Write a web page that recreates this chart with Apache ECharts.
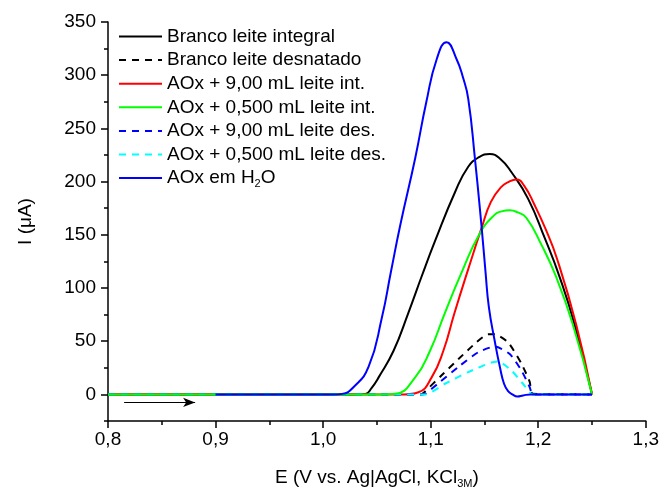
<!DOCTYPE html>
<html><head><meta charset="utf-8">
<script src="https://cdn.jsdelivr.net/npm/echarts@6/dist/echarts.min.js"></script>
<style>html,body{margin:0;padding:0;background:#fff}#c{width:662px;height:494px}</style>
</head><body><div id="c"></div>
<script>
// ---- data (E in V, I in µA) ----
const seriesNames = ['Branco leite integral','Branco leite desnatado','AOx + 9,00 mL leite int.','AOx + 0,500 mL leite int.','AOx + 9,00 mL leite des.','AOx + 0,500 mL leite des.','AOx em H2O'];
const yTickLabels = [0, 50, 100, 150, 200, 250, 300, 350];
const yMinorTicks = [-25, 25, 75, 125, 175, 225, 275, 325];

const brancoIntE = [0.80, 1.030, 1.0393, 1.0450, 1.0516, 1.0655, 1.0790, 1.092, 1.104, 1.1226, 1.1349, 1.1450, 1.155, 1.165, 1.175, 1.1905, 1.206, 1.220, 1.2337, 1.25];
const brancoIntI = [0, 0, 0.5, 6, 16, 41, 76, 112, 144, 190, 214, 223, 226, 221, 209, 184, 147, 110, 66, 0];

const brancoDesE = [0.80, 1.090, 1.0932, 1.1102, 1.1256, 1.1426, 1.1534, 1.1596, 1.1719, 1.1843, 1.192, 1.195, 1.25];
const brancoDesI = [0, 0, 1.4, 18, 33, 49, 56.5, 56.5, 49, 29, 12, 0.5, 0];

const aox9IntE = [0.80, 1.075, 1.0886, 1.1009, 1.1118, 1.1220, 1.1350, 1.1472, 1.1560, 1.1657, 1.1730, 1.1796, 1.1870, 1.1966, 1.2070, 1.2173, 1.2352, 1.25];
const aox9IntI = [0, 0, 2, 16, 41, 76, 118, 156, 181, 195, 200, 202, 196, 178, 155, 128, 66, 0];

const aox05IntE = [0.80, 1.055, 1.067, 1.0856, 1.0994, 1.1130, 1.1281, 1.1455, 1.1596, 1.1660, 1.1735, 1.1810, 1.1889, 1.2028, 1.2160, 1.2321, 1.25];
const aox05IntI = [0, 0, 0.5, 16, 41, 76, 113, 151, 169, 172, 173, 171, 166, 141, 112, 66, 0];

const aox9DesE = [0.80, 1.092, 1.0948, 1.1087, 1.1272, 1.1442, 1.1596, 1.1735, 1.1843, 1.192, 1.195, 1.25];
const aox9DesI = [0, 0, 0.5, 11.7, 27, 39.6, 45, 38, 22.6, 7, 0, 0];

const aox05DesE = [0.80, 1.095, 1.1133, 1.1349, 1.1565, 1.1627, 1.175, 1.1858, 1.195, 1.25];
const aox05DesI = [0, 0, 10, 21, 30, 31, 22.6, 10, 0, 0];

const aoxH2OE = [0.90, 1.010, 1.0176, 1.0284, 1.0423, 1.0546, 1.0630, 1.0717, 1.0856, 1.0960, 1.1056, 1.1148, 1.1241, 1.1300, 1.1349, 1.1411, 1.1472, 1.1510, 1.1541, 1.1596, 1.1643, 1.1682, 1.1720, 1.1760, 1.1806, 1.1860, 1.1930, 1.25];
const aoxH2OI = [0, 0, 0.5, 7, 26, 72, 115, 159, 222, 275, 315, 331, 315, 298, 278, 222, 159, 115, 82, 50, 26, 10, 3, 0, -2, -1, 0, 0];

const scanArrow = [[0.815, -7.5], [0.881, -7.5]];

// ---- helpers ----
const zip = (xs, ys) => xs.map((x, i) => [x, ys[i]]);
const FONT = 'Liberation Sans, Arial, sans-serif';

function mk(name, xs, ys, color, dashed, z, smooth) {
  return {
    name: name, type: 'line', data: zip(xs, ys), symbol: 'none', showSymbol: false,
    smooth: smooth, z: z,
    lineStyle: { color: color, width: 2, type: dashed ? [7, 6] : 'solid' },
    itemStyle: { color: color },
    emphasis: { disabled: true }
  };
}

const sBI = mk(seriesNames[0], brancoIntE, brancoIntI, '#000000', false, 2, 0.5);
sBI.markLine = {
  silent: true, symbol: ['none', 'arrow'], symbolSize: [7, 12],
  lineStyle: { color: '#000', width: 1, type: 'solid' }, label: { show: false },
  data: [[{ coord: scanArrow[0] }, { coord: scanArrow[1] }]], animation: false
};

const series = [
  sBI,
  mk(seriesNames[1], brancoDesE, brancoDesI, '#000000', true, 3, 0.2),
  mk(seriesNames[2], aox9IntE, aox9IntI, '#ff0000', false, 4, 0.5),
  mk(seriesNames[4], aox9DesE, aox9DesI, '#0000ff', true, 5, 0.2),
  mk(seriesNames[5], aox05DesE, aox05DesI, '#00ffff', true, 6, 0.2),
  mk(seriesNames[3], aox05IntE, aox05IntI, '#00ff00', false, 7, 0.5),
  mk(seriesNames[6], aoxH2OE, aoxH2OI, '#0000ff', false, 8, 0.5)
];

const chart = echarts.init(document.getElementById('c'), null, { renderer: 'canvas' });
chart.setOption({
  animation: false,
  backgroundColor: '#ffffff',
  textStyle: { fontFamily: FONT },
  grid: { left: 108, right: 14, top: 22, bottom: 70, containLabel: false },
  legend: {
    data: seriesNames, orient: 'vertical', left: 118, top: 25.5, padding: 0,
    itemWidth: 43, itemHeight: 14, itemGap: 1.6,
    selectedMode: false,
    itemStyle: { opacity: 0 },
    textStyle: {
      fontFamily: FONT, fontSize: 19, color: '#000', lineHeight: 22,
      rich: { sub: { fontFamily: FONT, fontSize: 11, color: '#000', lineHeight: 6, verticalAlign: 'bottom' } }
    },
    formatter: n => n === 'AOx em H2O' ? 'AOx em H{sub|2}O' : n
  },
  xAxis: {
    type: 'value', min: 0.8, max: 1.3, interval: 0.1,
    name: 'E (V vs. Ag|AgCl, KCl{sub|3M})', nameLocation: 'middle', nameGap: 46,
    nameTextStyle: {
      fontFamily: FONT, fontSize: 19, color: '#000', lineHeight: 22,
      rich: { sub: { fontFamily: FONT, fontSize: 11, color: '#000', lineHeight: 2, verticalAlign: 'bottom' } }
    },
    axisLine: { show: true, onZero: false, lineStyle: { color: '#000', width: 1.5 } },
    axisTick: { show: true, length: 7, inside: false, lineStyle: { color: '#000', width: 1.5 } },
    minorTick: { show: true, splitNumber: 2, length: 4, lineStyle: { color: '#000', width: 1.5 } },
    axisLabel: { fontFamily: FONT, fontSize: 19, color: '#000', margin: 9, formatter: v => v.toFixed(1).replace('.', ',') },
    splitLine: { show: false }
  },
  yAxis: [{
    type: 'value', min: -25, max: 350, position: 'left',
    name: 'I (μA)', nameLocation: 'middle', nameGap: 73,
    nameTextStyle: { fontFamily: FONT, fontSize: 19, color: '#000' },
    axisLine: { show: true, onZero: false, lineStyle: { color: '#000', width: 1.5 } },
    axisTick: { show: true, length: 7, inside: false, customValues: yTickLabels, lineStyle: { color: '#000', width: 1.5 } },
    axisLabel: { fontFamily: FONT, fontSize: 19, color: '#000', margin: 12, customValues: yTickLabels },
    splitLine: { show: false }
  }, {
    type: 'value', min: -25, max: 350, position: 'left', offset: 0,
    axisLine: { show: false },
    axisTick: { show: true, length: 4, inside: false, customValues: yMinorTicks, lineStyle: { color: '#000', width: 1.5 } },
    axisLabel: { show: false },
    splitLine: { show: false }
  }],
  series: series
});
</script></body></html>
